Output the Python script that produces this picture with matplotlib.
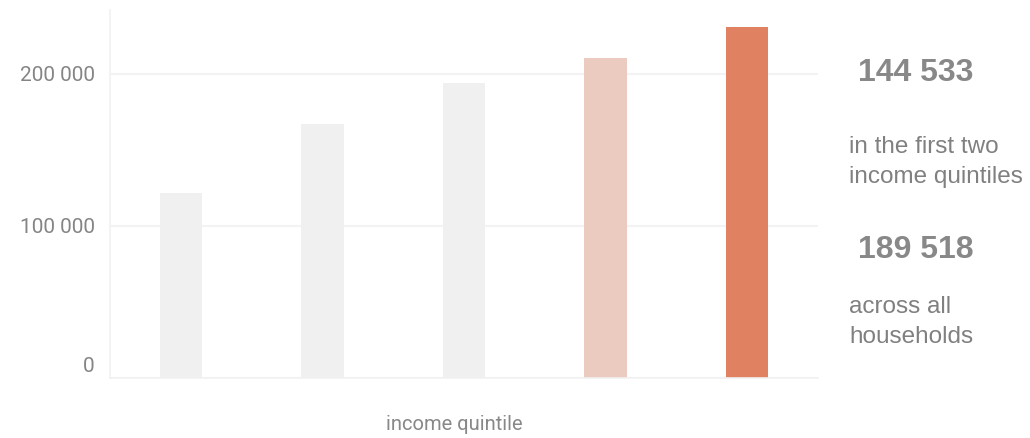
"""Median household wealth by income quintile, with two headline figures."""

import matplotlib

matplotlib.use("Agg")
import matplotlib.pyplot as plt
from matplotlib.ticker import FuncFormatter
from matplotlib.transforms import offset_copy

quintiles = ["Q1", "Q2", "Q3", "Q4", "Q5"]
values = [121700, 166600, 193800, 210000, 230700]
bar_colors = ["#f0f0f0", "#f0f0f0", "#f0f0f0", "#ebcbbf", "#e08262"]
y_ticks = [0, 100000, 200000]

headline_values = ["144 533", "189 518"]
headline_labels = ["in the first two\nincome quintiles", "across all\nhouseholds"]

AXIS_FONT = "Roboto"
SIDE_FONT = "Liberation Sans"
GREY = "#888888"

fig = plt.figure(figsize=(10.30, 4.38), dpi=100)
ax = fig.add_axes([110 / 1030, 1 - 377.5 / 438, 708 / 1030, 367.5 / 438])

x = range(len(quintiles))
ax.bar(x, values, width=0.30, color=bar_colors, zorder=2)
ax.set_xlim(-0.5, len(quintiles) - 0.5)
ax.set_ylim(0, 241800)

ax.set_yticks(y_ticks)
ax.yaxis.set_major_formatter(FuncFormatter(lambda v, _: f"{int(v):,}".replace(",", " ")))
ax.set_xticks([])
ax.tick_params(axis="y", length=0, pad=11, labelsize=15, labelcolor="#858585")
for lab in ax.get_yticklabels():
    lab.set_fontfamily(AXIS_FONT)
# the zero label sits a little above the baseline
zero_lab = ax.get_yticklabels()[0]
zero_lab.set_transform(offset_copy(zero_lab.get_transform(), fig=fig, y=9, units="points"))
ax.grid(axis="y", color="#f3f3f3", lw=1.5, zorder=0)

for side in ("top", "right"):
    ax.spines[side].set_visible(False)
for side in ("left", "bottom"):
    ax.spines[side].set_color("#f1f1f1")
    ax.spines[side].set_linewidth(1.2)

ax.set_xlabel("income quintile", fontsize=14.5, color=GREY, family=AXIS_FONT, va="center")
ax.xaxis.set_label_coords(0.487, -47.5 / 367.5)

# headline figures on the right
num_y = [1 - 73 / 438, 1 - 250 / 438]
lab_y = [1 - 162 / 438, 1 - 322 / 438]
for val, label, ny, ly in zip(headline_values, headline_labels, num_y, lab_y):
    fig.text(858 / 1030, ny, val, fontsize=23, fontweight="bold", color=GREY,
             family=SIDE_FONT, va="center", ha="left")
    fig.text(849 / 1030, ly, label, fontsize=17.5, color="#808080",
             family=SIDE_FONT, va="center", ha="left", linespacing=1.45)

fig.savefig("out.png", dpi=100)
plt.close(fig)
